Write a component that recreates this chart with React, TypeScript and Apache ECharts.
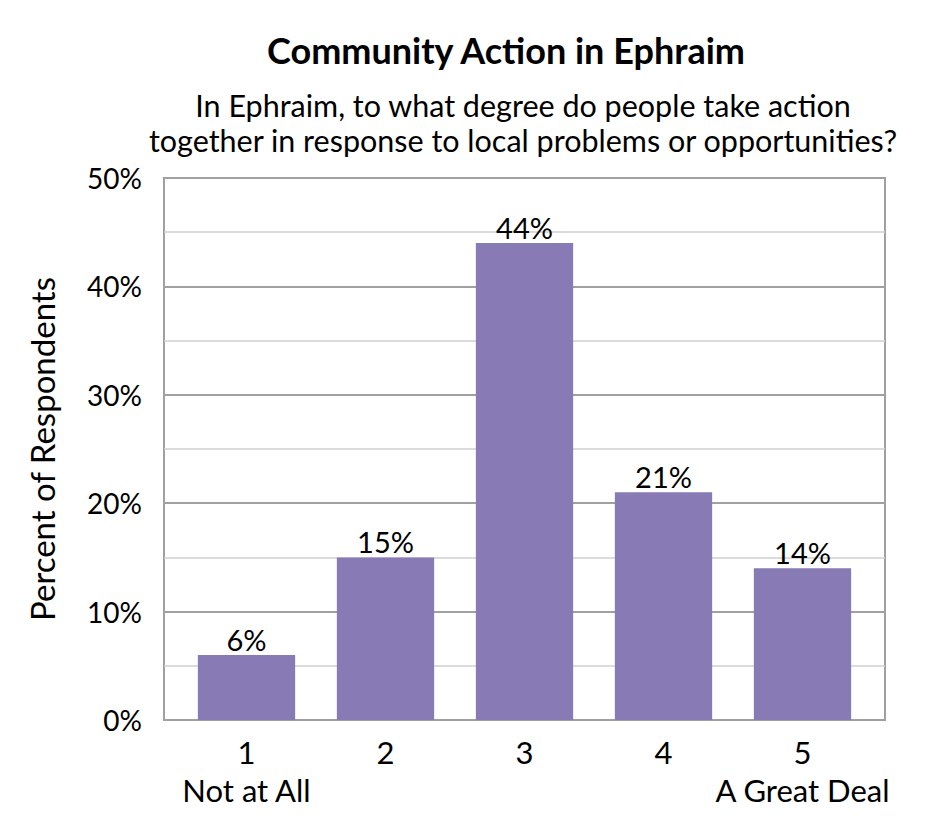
import React, { useEffect, useRef } from "react";
import * as echarts from "echarts";

const titleText = "Community Action in Ephraim";
const subtitleLines = [
  "In Ephraim, to what degree do people take action",
  "together in response to local problems or opportunities?",
];
const categories = ["1", "2", "3", "4", "5"];
const anchorLabels = ["Not at All", "", "", "", "A Great Deal"];
const percentValues = [6, 15, 44, 21, 14];
const yAxisName = "Percent of Respondents";
const yMin = 0;
const yMax = 50;
const yInterval = 10;

const FONT = "Lato, 'Noto Sans', sans-serif";

export default function App() {
  const ref = useRef<HTMLDivElement>(null);

  useEffect(() => {
    if (!ref.current) return;
    const chart = echarts.init(ref.current, null, { renderer: "svg" });

    const xLabels = categories.map((c, i) =>
      anchorLabels[i] ? `${c}\n${anchorLabels[i]}` : c
    );

    const subtitleGraphics = subtitleLines.map((line, i) => ({
      type: "text",
      x: 515,
      y: 97 + i * 35,
      style: {
        text: line,
        fontFamily: FONT,
        fontSize: 30.5,
        lineHeight: 33,
        fill: "#000000",
        textAlign: "center",
        textVerticalAlign: "middle",
      },
    }));

    const option: any = {
      animation: false,
      backgroundColor: "#ffffff",
      textStyle: { fontFamily: FONT },
      graphic: [
        {
          type: "text",
          x: 498,
          y: 42,
          style: {
            text: titleText,
            fontFamily: FONT,
            fontWeight: "bold",
            fontSize: 36,
            fill: "#000000",
            textAlign: "center",
            textVerticalAlign: "middle",
          },
        },
        ...subtitleGraphics,
      ],
      grid: [
        {
          left: 156,
          top: 170,
          width: 721,
          height: 542,
          show: true,
          borderColor: "#a0a0a0",
          borderWidth: 2,
          containLabel: false,
        },
        {
          left: 169,
          top: 170,
          width: 695,
          height: 542,
          show: false,
          containLabel: false,
        },
      ],
      xAxis: [
        {
          gridIndex: 0,
          type: "value",
          min: 0,
          max: 1,
          show: false,
        },
        {
          gridIndex: 1,
          type: "category",
          data: xLabels,
          axisLine: { show: false },
          axisTick: { show: false },
          axisLabel: {
            interval: 0,
            margin: 13,
            fontFamily: FONT,
            fontSize: 31,
            lineHeight: 38,
            color: "#000000",
          },
        },
      ],
      yAxis: [
        {
          gridIndex: 0,
          type: "value",
          min: yMin,
          max: yMax,
          interval: yInterval,
          axisLine: { show: false },
          axisTick: { show: false },
          axisLabel: {
            formatter: "{value}%",
            margin: 22,
            fontFamily: FONT,
            fontSize: 28,
            color: "#000000",
          },
          splitLine: {
            show: true,
            lineStyle: { color: "#a0a0a0", width: 2 },
          },
          minorTick: { show: false, splitNumber: 2 },
          minorSplitLine: {
            show: true,
            lineStyle: { color: "#cfcfcf", width: 1.5 },
          },
          name: yAxisName,
          nameLocation: "middle",
          nameRotate: 90,
          nameGap: 106,
          nameTextStyle: {
            fontFamily: FONT,
            fontSize: 33,
            color: "#000000",
          },
        },
        {
          gridIndex: 1,
          type: "value",
          min: yMin,
          max: yMax,
          interval: yInterval,
          show: false,
        },
      ],
      series: [
        {
          type: "bar",
          xAxisIndex: 1,
          yAxisIndex: 1,
          data: percentValues,
          barCategoryGap: "30%",
          itemStyle: { color: "#877ab5" },
          label: {
            show: true,
            position: "top",
            distance: 1,
            formatter: "{c}%",
            fontFamily: FONT,
            fontSize: 29,
            color: "#000000",
          },
        },
      ],
    };

    chart.setOption(option);
    return () => chart.dispose();
  }, []);

  return <div ref={ref} style={{ width: 929, height: 824 }} />;
}
